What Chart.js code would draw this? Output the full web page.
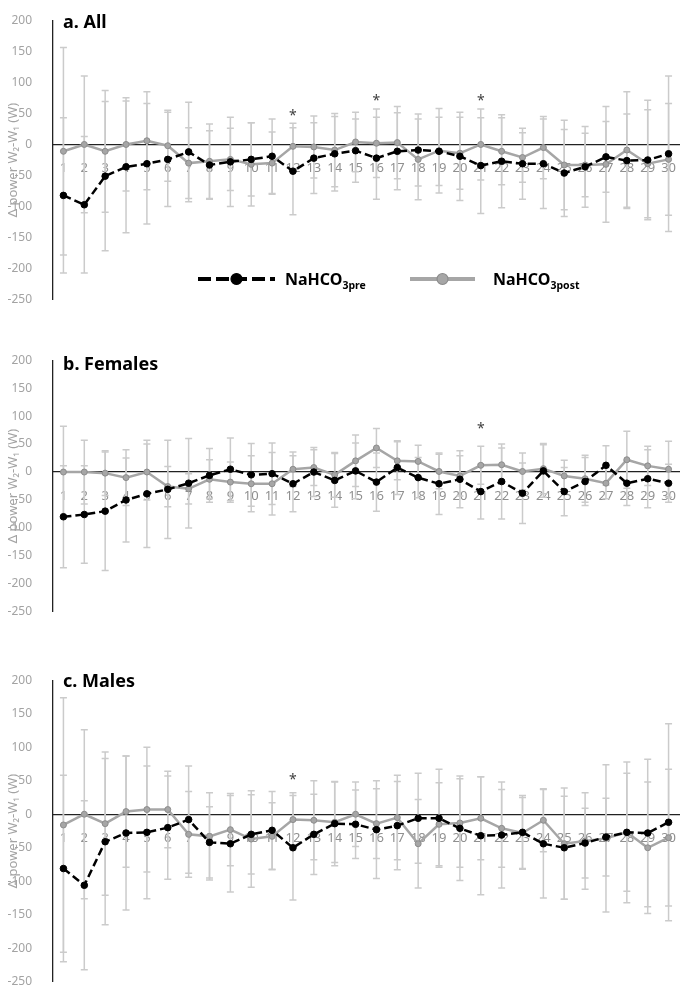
<!DOCTYPE html>
<html>
<head>
<meta charset="utf-8">
<script src="https://cdn.jsdelivr.net/npm/chart.js@4.4.0/dist/chart.umd.min.js"></script>
<style>
  body { margin: 0; background: #fff; width: 685px; height: 1002px; position: relative; overflow: hidden; }
  .panel { position: absolute; left: 0; width: 685px; }
</style>
</head>
<body>
<div class="panel" style="top:0;height:320px"><canvas id="chartAll"></canvas></div>
<div class="panel" style="top:340px;height:292px"><canvas id="chartFemales"></canvas></div>
<div class="panel" style="top:660px;height:342px"><canvas id="chartMales"></canvas></div>
<script>
const labels = ['1','2','3','4','5','6','7','8','9','10','11','12','13','14','15',
                '16','17','18','19','20','21','22','23','24','25','26','27','28','29','30'];
const yTicks = [200, 150, 100, 50, 0, -50, -100, -150, -200, -250];

// a. All
const allPre    = [-82, -97, -51, -36, -31, -24, -12, -33, -28, -24, -19, -43, -22, -15, -10, -22, -11, -9, -11, -19, -34, -27, -31, -31, -46, -36, -20, -26, -25, -15];
const allPreSD  = [125, 110, 120, 106, 97, 76, 80, 55, 72, 59, 60, 70, 57, 60, 51, 66, 62, 58, 55, 71, 77, 75, 57, 72, 70, 65, 57, 75, 96, 125];
const allPost   = [-11, 0, -11, 0, 6, -2, -30, -27, -24, -32, -30, -3, -4, -9, 4, 2, 3, -24, -10, -14, 0, -11, -21, -5, -33, -33, -32, -9, -31, -24];
const allPostSD = [167, 110, 98, 75, 79, 57, 57, 60, 50, 67, 50, 37, 50, 59, 48, 55, 58, 65, 68, 58, 57, 54, 40, 50, 72, 51, 93, 94, 87, 90];
const allStars  = [['12', 50], ['16', 74], ['21', 74]];

// b. Females
const femPre    = [-80, -76, -70, -50, -39, -31, -20, -6, 5, -5, -3, -21, 0, -15, 2, -18, 8, -10, -21, -13, -35, -17, -38, 2, -35, -17, 12, -20, -12, -20];
const femPreSD  = [91, 87, 106, 75, 96, 88, 80, 48, 56, 56, 55, 50, 44, 48, 50, 52, 48, 36, 55, 51, 49, 67, 54, 47, 43, 43, 35, 40, 52, 34];
const femPost   = [0, 0, -2, -10, 0, -26, -30, -13, -18, -21, -21, 5, 8, -5, 20, 43, 20, 19, 1, -7, 12, 13, 1, 6, -7, -12, -20, 22, 11, 5];
const femPostSD = [82, 57, 40, 50, 50, 36, 27, 35, 36, 50, 56, 31, 32, 40, 46, 35, 34, 29, 31, 36, 34, 30, 33, 45, 28, 42, 28, 51, 35, 50];
const femStars  = [['21', 82]];

// c. Males
const malePre    = [-81, -106, -41, -28, -27, -20, -8, -42, -44, -30, -24, -50, -30, -14, -15, -23, -17, -6, -6, -21, -32, -31, -27, -44, -50, -43, -34, -27, -28, -12];
const malePreSD  = [139, 126, 124, 115, 99, 77, 80, 53, 72, 59, 58, 78, 60, 63, 51, 73, 66, 67, 73, 78, 88, 79, 55, 81, 77, 52, 58, 105, 110, 147];
const malePost   = [-16, 0, -14, 4, 7, 7, -30, -33, -23, -37, -33, -8, -9, -12, 0, -14, -5, -44, -15, -13, -6, -21, -28, -9, -44, -40, -36, -27, -50, -35];
const malePostSD = [190, 126, 107, 83, 93, 57, 64, 65, 54, 72, 50, 40, 59, 60, 48, 52, 63, 66, 62, 66, 62, 58, 53, 47, 83, 72, 110, 88, 98, 102];
const maleStars  = [['12', 55]];

const FONT = '"Noto Sans", "DejaVu Sans", sans-serif';

// error bars (mean +/- sd) under the lines
const errorBars = {
  id: 'errorBars',
  beforeDatasetsDraw(chart) {
    const ctx = chart.ctx;
    const xs = chart.scales.x, ys = chart.scales.y;
    ctx.save();
    ctx.strokeStyle = '#cbcbcb';
    ctx.lineWidth = 1.5;
    chart.data.datasets.forEach(ds => {
      ds.data.forEach((v, i) => {
        const px = xs.getPixelForValue(i);
        const top = ys.getPixelForValue(v + ds.sd[i]);
        const bot = ys.getPixelForValue(v - ds.sd[i]);
        ctx.beginPath();
        ctx.moveTo(px, top); ctx.lineTo(px, bot);
        ctx.moveTo(px - 3.5, top); ctx.lineTo(px + 3.5, top);
        ctx.moveTo(px - 3.5, bot); ctx.lineTo(px + 3.5, bot);
        ctx.stroke();
      });
    });
    ctx.restore();
  }
};

function subText(ctx, main, sub, x, y) {
  ctx.font = 'bold 16px ' + FONT;
  ctx.fillText(main, x, y);
  const w = ctx.measureText(main).width;
  ctx.font = 'bold 10.5px ' + FONT;
  ctx.fillText(sub, x + w, y + 4);
}

// panel title, asterisks and (panel a) the legend
const decorations = {
  id: 'decorations',
  afterDraw(chart, args, opts) {
    const ctx = chart.ctx;
    const xs = chart.scales.x, ys = chart.scales.y;
    ctx.save();
    ctx.fillStyle = '#000';
    ctx.textAlign = 'left';
    ctx.textBaseline = 'alphabetic';
    ctx.font = 'bold 18px ' + FONT;
    ctx.fillText(opts.title, 63, opts.titleY);

    ctx.fillStyle = '#404040';
    ctx.textAlign = 'center';
    ctx.textBaseline = 'middle';
    ctx.font = '14px ' + FONT;
    opts.stars.forEach(s => {
      ctx.fillText('*', xs.getPixelForValue(labels.indexOf(s[0])), ys.getPixelForValue(s[1]) + 3);
    });

    if (opts.legend) {
      const ly = 279;
      const items = [
        { ds: chart.data.datasets[0], x0: 198, x1: 275, tx: 285, sub: '3pre' },
        { ds: chart.data.datasets[1], x0: 410, x1: 475, tx: 493, sub: '3post' }
      ];
      items.forEach(it => {
        ctx.strokeStyle = it.ds.borderColor;
        ctx.lineWidth = 4;
        ctx.setLineDash(it.ds.borderDash ? [13, 5] : []);
        ctx.beginPath();
        ctx.moveTo(it.x0, ly); ctx.lineTo(it.x1, ly);
        ctx.stroke();
        ctx.setLineDash([]);
        ctx.beginPath();
        ctx.arc((it.x0 + it.x1) / 2, ly, 5.5, 0, Math.PI * 2);
        ctx.fillStyle = it.ds.pointBackgroundColor;
        ctx.fill();
        ctx.lineWidth = 1.2;
        ctx.strokeStyle = it.ds.pointBorderColor;
        ctx.stroke();
        ctx.fillStyle = '#000';
        ctx.textAlign = 'left';
        ctx.textBaseline = 'alphabetic';
        subText(ctx, 'NaHCO', it.sub, it.tx, ly + 6);
      });
    }
    ctx.restore();
  }
};

function makeChart(id, pre, preSD, post, postSD, stars, title, titleY, pad, legend) {
  return new Chart(document.getElementById(id), {
    type: 'line',
    data: {
      labels: labels,
      datasets: [{
        label: 'NaHCO3pre',
        data: pre,
        sd: preSD,
        borderColor: '#000',
        borderWidth: 2.5,
        borderDash: [8, 4],
        pointRadius: 3.3,
        pointBackgroundColor: '#000',
        pointBorderColor: '#000',
        pointBorderWidth: 1,
        tension: 0
      }, {
        label: 'NaHCO3post',
        data: post,
        sd: postSD,
        borderColor: '#a6a6a6',
        borderWidth: 2.5,
        pointRadius: 3,
        pointBackgroundColor: '#a6a6a6',
        pointBorderColor: '#8c8c8c',
        pointBorderWidth: 1,
        tension: 0
      }]
    },
    options: {
      responsive: true,
      maintainAspectRatio: false,
      animation: false,
      layout: { padding: pad },
      scales: {
        x: {
          type: 'category',
          offset: true,
          position: { y: 0 },
          grid: { display: false },
          border: { display: true, color: '#222', width: 1.3 },
          ticks: {
            color: '#8f8f8f',
            font: { family: FONT, size: 13 },
            padding: 8,
            autoSkip: false,
            maxRotation: 0
          }
        },
        y: {
          min: -250,
          max: 200,
          afterFit: s => { s.width = 53; },
          afterBuildTicks: s => { s.ticks = yTicks.map(v => ({ value: v })); },
          grid: { display: false },
          border: { display: true, color: '#222', width: 1.3 },
          ticks: {
            color: '#a3a3a3',
            font: { family: FONT, size: 12 },
            padding: 13
          },
          title: {
            display: true,
            text: 'Δ power W₂-W₁ (W)',
            color: '#a3a3a3',
            font: { family: FONT, size: 13 },
            padding: { top: 5, bottom: 0 }
          }
        }
      },
      plugins: {
        legend: { display: false },
        tooltip: { enabled: false },
        decorations: { title: title, titleY: titleY, stars: stars, legend: legend }
      }
    },
    plugins: [errorBars, decorations]
  });
}

makeChart('chartAll', allPre, allPreSD, allPost, allPostSD, allStars, 'a. All', 28,
  { top: 7, bottom: 9, left: 0, right: 6 }, true);
makeChart('chartFemales', femPre, femPreSD, femPost, femPostSD, femStars, 'b. Females', 30,
  { top: 13, bottom: 9, left: 0, right: 6 }, false);
makeChart('chartMales', malePre, malePreSD, malePost, malePostSD, maleStars, 'c. Males', 27,
  { top: 15, bottom: 7, left: 0, right: 6 }, false);
</script>
</body>
</html>
